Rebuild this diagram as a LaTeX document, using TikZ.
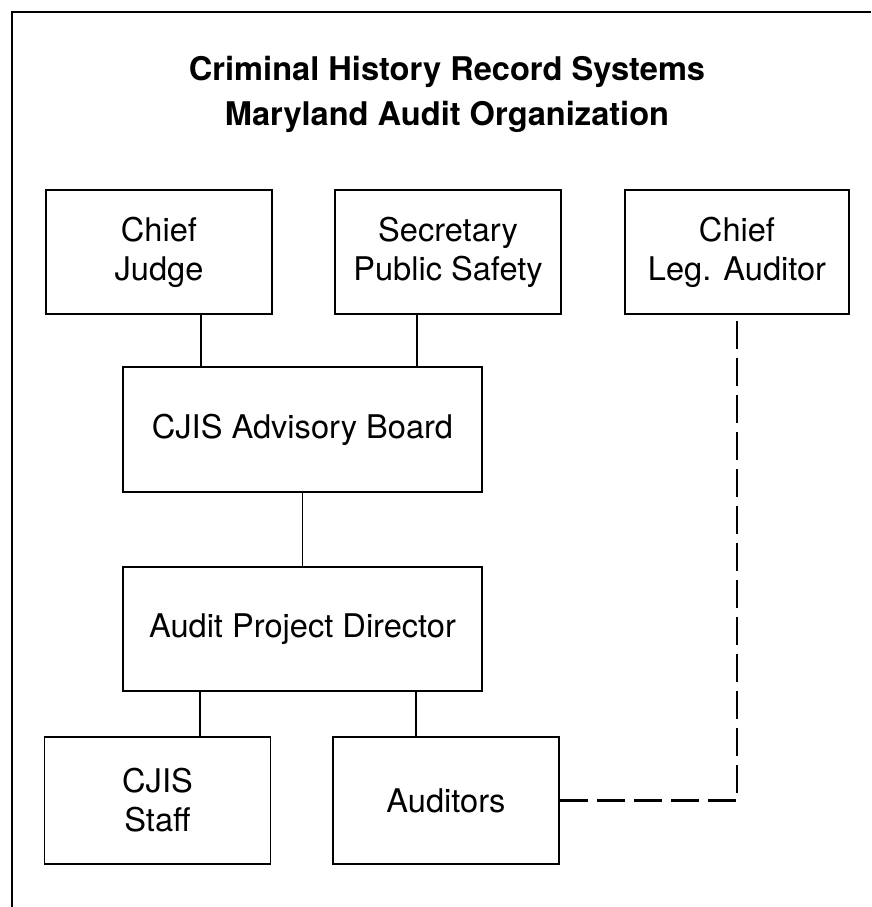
\documentclass[tikz,border=0pt]{standalone}
\usepackage{fontspec}
\setmainfont{TeX Gyre Heros}
\begin{document}
\begin{tikzpicture}[x=1pt,y=-1pt,
        orgbox/.style={draw, line width=1.6pt, minimum width=226pt, minimum height=124pt,
          inner sep=0pt, align=center, font=\fontsize{32.6}{39}\selectfont},
        widebox/.style={orgbox, minimum width=359pt, minimum height=125pt},
        heading/.style={font=\fontsize{32.6}{39}\selectfont\bfseries, anchor=base, inner sep=0pt},
        link/.style={line width=1.2pt},
        auditlink/.style={line width=2.6pt, dash pattern=on 28pt off 9pt}]
        \useasboundingbox (0,0) rectangle (871,907);
        % Frame (cut off at right and bottom)
        \draw[line width=2pt] (12,907) -- (12,12) -- (871,12);
        % Heading
        \node[heading] (title) at (447,80) {Criminal History Record Systems};
        \node[heading] (subtitle) at (447,125) {Maryland Audit Organization};
        % Top row
        \node[orgbox] (judge) at (159,252) {Chief\\Judge};
        \node[orgbox] (secretary) at (448,252) {Secretary\\Public Safety};
        \node[orgbox, minimum width=224pt] (legaud) at (737,252) {Chief\\Leg. Auditor};
        % Board and director
        \node[widebox] (board) at (302.5,429.5) {CJIS Advisory Board};
        \node[widebox, minimum height=124pt] (director) at (302.5,629) {Audit Project Director};
        % Bottom row
        \node[orgbox, minimum height=127pt] (staff) at (157.5,800.5) {CJIS\\Staff};
        \node[orgbox, minimum height=127pt] (auditors) at (446,800.5) {Auditors};
        % Solid links
        \draw[link] ([xshift=42pt]judge.south) -- ([xshift=42pt]judge.south |- board.north);
        \draw[link] ([xshift=-31pt]secretary.south) -- ([xshift=-31pt]secretary.south |- board.north);
        \draw[link] (board.south) -- (director.north);
        \draw[link] ([xshift=42.5pt]staff.north) -- ([xshift=42.5pt]staff.north |- director.south);
        \draw[link] ([xshift=-30pt]auditors.north) -- ([xshift=-30pt]auditors.north |- director.south);
        % Dashed link to the legislative auditor
        \draw[auditlink] (auditors.east) -| (legaud.south);
\end{tikzpicture}
\end{document}
